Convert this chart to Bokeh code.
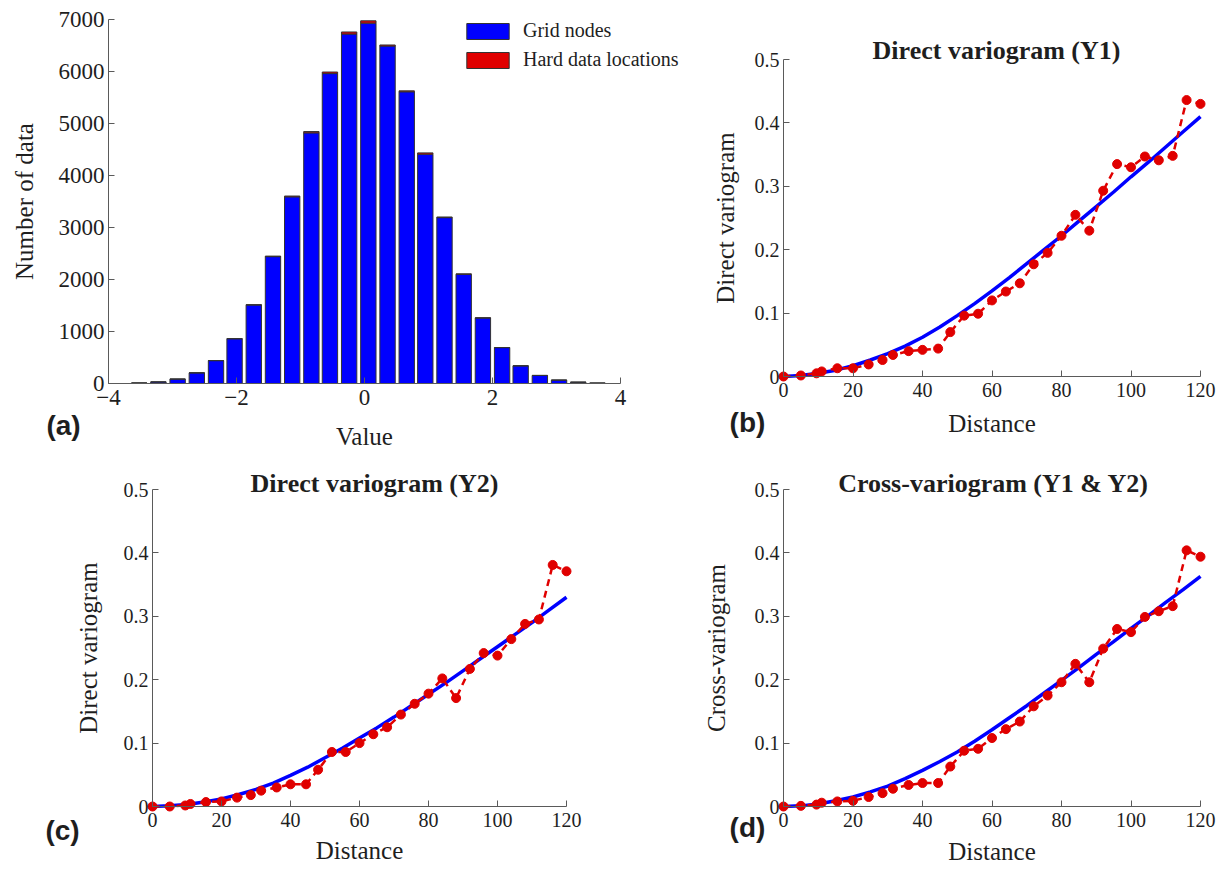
from bokeh.plotting import figure
from bokeh.models import FixedTicker, CustomJSTickFormatter, Label, Range1d
from bokeh.layouts import column, row
from bokeh.embed import file_html
from bokeh.resources import INLINE

# ---------------- data ----------------
bin_centers = [-3.52, -3.22, -2.92, -2.62, -2.32, -2.03, -1.73, -1.43, -1.13, -0.83,
               -0.54, -0.24, 0.06, 0.36, 0.66, 0.95, 1.25, 1.55, 1.85, 2.15,
               2.44, 2.74, 3.04, 3.34, 3.64]
grid_counts = [10, 30, 85, 205, 440, 860, 1510, 2440, 3590, 4820,
               5960, 6720, 6930, 6490, 5610, 4410, 3190, 2100, 1260, 690,
               340, 155, 65, 25, 8]
hard_counts = [0, 0, 0, 0, 1, 3, 6, 10, 15, 25,
               30, 40, 45, 20, 18, 25, 12, 8, 4, 2,
               1, 0, 0, 0, 0]

lags = [0, 5, 9.5, 11, 15.5, 20, 24.5, 28.5, 31.5, 36,
        40, 44.5, 48, 52, 56, 60, 64, 68, 72, 76,
        80, 84, 88, 92, 96, 100, 104, 108, 112, 116, 120]
exp_y1 = [0, 0.0016, 0.005, 0.008, 0.013, 0.013, 0.019, 0.026, 0.034, 0.040,
          0.042, 0.044, 0.070, 0.096, 0.099, 0.120, 0.134, 0.147, 0.177, 0.195,
          0.222, 0.255, 0.230, 0.293, 0.335, 0.330, 0.347, 0.341, 0.348, 0.436, 0.430]
exp_y2 = [0, 0.0, 0.0016, 0.004, 0.007, 0.008, 0.014, 0.018, 0.025, 0.030,
          0.035, 0.035, 0.058, 0.086, 0.086, 0.100, 0.114, 0.125, 0.145, 0.162,
          0.178, 0.202, 0.171, 0.217, 0.242, 0.238, 0.264, 0.288, 0.295, 0.381, 0.371]
exp_cross = [0, 0.001, 0.003, 0.006, 0.008, 0.009, 0.015, 0.021, 0.028, 0.034,
             0.037, 0.037, 0.063, 0.088, 0.091, 0.108, 0.122, 0.134, 0.158, 0.175,
             0.196, 0.225, 0.196, 0.249, 0.280, 0.275, 0.299, 0.308, 0.316, 0.404, 0.394]

model_h = [0, 5, 10, 15, 20, 25, 30, 35, 40, 45, 50, 55, 60,
           65, 70, 75, 80, 85, 90, 95, 100, 105, 110, 115, 120]
model_y1 = [0, 0.0015, 0.005, 0.010, 0.017, 0.026, 0.036, 0.048, 0.062, 0.078, 0.096, 0.115, 0.135,
            0.156, 0.178, 0.200, 0.222, 0.245, 0.268, 0.291, 0.315, 0.338, 0.362, 0.386, 0.410]
model_y2 = [0, 0.001, 0.003, 0.007, 0.012, 0.019, 0.027, 0.037, 0.049, 0.062, 0.077, 0.092, 0.108,
            0.124, 0.141, 0.159, 0.177, 0.195, 0.214, 0.233, 0.252, 0.271, 0.290, 0.310, 0.330]
model_cross = [0, 0.001, 0.004, 0.009, 0.015, 0.023, 0.032, 0.044, 0.057, 0.071, 0.086, 0.103, 0.121,
               0.140, 0.159, 0.179, 0.199, 0.219, 0.240, 0.260, 0.281, 0.301, 0.322, 0.342, 0.363]

hist_xticks = [-4, -2, 0, 2, 4]
hist_yticks = [0, 1000, 2000, 3000, 4000, 5000, 6000, 7000]
var_xticks = [0, 20, 40, 60, 80, 100, 120]
var_yticks = [0, 0.1, 0.2, 0.3, 0.4, 0.5]

SERIF = "Liberation Serif"
SANS = "Liberation Sans"
BLUE = "#0000ff"
RED = "#e00000"
AXIS_COL = "#5a5a5a"
TEXT_COL = "#1e1e1e"


class Frame:
    """Maps pixel positions inside a figure to data positions of its (full-size) frame."""
    def __init__(self, W, H, L, R, T, B, xr, yr):
        self.W, self.H, self.L, self.R, self.T, self.B = W, H, L, R, T, B
        self.xmin, self.xmax = xr
        self.ymin, self.ymax = yr
        self.sx = (self.xmax - self.xmin) / (R - L)
        self.sy = (self.ymax - self.ymin) / (B - T)

    def x(self, px):
        return self.xmin + (px - self.L) * self.sx

    def y(self, py):
        return self.ymin + (self.B - py) * self.sy


def make_fig(fr, tick_size, ylab_so, xlab_so):
    p = figure(width=fr.W, height=fr.H,
               x_range=Range1d(fr.x(0), fr.x(fr.W)), y_range=Range1d(fr.y(fr.H), fr.y(0)),
               min_border=0, title=None, output_backend="svg", toolbar_location=None)
    for ax in (p.xaxis[0], p.yaxis[0]):
        ax.major_tick_in = 6
        ax.major_tick_out = 0
        ax.minor_tick_line_color = None
        ax.axis_line_color = AXIS_COL
        ax.major_tick_line_color = AXIS_COL
        ax.major_label_text_font = SERIF
        ax.major_label_text_font_size = tick_size
        ax.major_label_text_color = TEXT_COL
        ax.axis_label_text_font = SERIF
        ax.axis_label_text_font_size = "25px"
        ax.axis_label_text_font_style = "normal"
        ax.axis_label_text_color = TEXT_COL
    p.xaxis[0].fixed_location = fr.ymin
    p.yaxis[0].fixed_location = fr.xmin
    p.xaxis[0].bounds = (fr.xmin, fr.xmax)
    p.yaxis[0].bounds = (fr.ymin, fr.ymax)
    p.xaxis[0].major_label_standoff = 6
    p.yaxis[0].major_label_standoff = 4
    p.yaxis[0].axis_label_standoff = ylab_so
    p.xaxis[0].axis_label_standoff = xlab_so
    p.xgrid.grid_line_color = None
    p.ygrid.grid_line_color = None
    p.outline_line_color = None
    p.background_fill_color = "white"
    p.border_fill_color = "white"
    return p


def add_text(p, x, y, text, font, size, bold=True):
    p.add_layout(Label(x=x, y=y, text=text, text_font=font,
                       text_font_style="bold" if bold else "normal",
                       text_font_size=size, text_align="center",
                       text_baseline="middle", text_color=TEXT_COL))


# ---------------- (a) histogram ----------------
fra = Frame(708, 452, 108, 620, 19, 383, (-4, 4), (0, 7000))
fa = make_fig(fra, "23px", 18, 15)
fa.xaxis.axis_label = "Value"
fa.yaxis.axis_label = "Number of data"
fa.xaxis.ticker = FixedTicker(ticks=hist_xticks)
fa.yaxis.ticker = FixedTicker(ticks=hist_yticks)
bar_w = 0.24
fa.vbar(x=bin_centers, top=grid_counts, bottom=0, width=bar_w, fill_color=BLUE,
        line_color="#333333", line_width=1, legend_label="Grid nodes")
hard_top = [g + h for g, h in zip(grid_counts, hard_counts)]
fa.vbar(x=bin_centers, top=hard_top, bottom=grid_counts, width=bar_w, fill_color=RED,
        line_color="#333333", line_width=1, legend_label="Hard data locations")
lg = fa.legend[0]
lg.location = (461, 452 - 25 - 46)
lg.glyph_width = 53
lg.glyph_height = 20
lg.spacing = 6
lg.padding = 0
lg.margin = 0
lg.label_standoff = 9
lg.label_height = 20
lg.label_text_font = SERIF
lg.label_text_font_size = "20px"
lg.label_text_color = TEXT_COL
lg.border_line_color = None
lg.background_fill_alpha = 0
add_text(fa, fra.x(63), fra.y(425), "(a)", SANS, "28px")


# ---------------- variogram panels ----------------
def var_fig(fr, title, title_px, ylabel, exp_vals, model_vals, lab, lab_px, ylab_so, xlab_so):
    p = make_fig(fr, "20px", ylab_so, xlab_so)
    p.xaxis.axis_label = "Distance"
    p.yaxis.axis_label = ylabel
    p.xaxis.ticker = FixedTicker(ticks=var_xticks)
    p.yaxis.ticker = FixedTicker(ticks=var_yticks)
    p.yaxis.formatter = CustomJSTickFormatter(code="return tick == 0 ? '0' : tick.toFixed(1);")
    p.line(model_h, model_vals, line_color=BLUE, line_width=3.5)
    p.line(lags, exp_vals, line_color=RED, line_width=2.5, line_dash="7 5")
    p.scatter(lags, exp_vals, size=9, fill_color=RED, line_color=RED)
    add_text(p, fr.x(title_px[0]), fr.y(title_px[1]), title, SERIF, "26px")
    add_text(p, fr.x(lab_px[0]), fr.y(lab_px[1]), lab, SANS, "28px")
    return p


frb = Frame(516, 452, 75, 492, 59, 376, (0, 120), (0, 0.5))
fb = var_fig(frb, "Direct variogram (Y1)", (288, 50), "Direct variogram",
             exp_y1, model_y1, "(b)", (39, 422), 13, 10)

frc = Frame(640, 417, 152, 566, 37, 354, (0, 120), (0, 0.5))
fc = var_fig(frc, "Direct variogram (Y2)", (374, 31), "Direct variogram",
             exp_y2, model_y2, "(c)", (62, 378), 19, 7)

frd = Frame(584, 417, 143, 560, 37, 354, (0, 120), (0, 0.5))
fd = var_fig(frd, "Cross-variogram (Y1 & Y2)", (353, 31), "Cross-variogram",
             exp_cross, model_cross, "(d)", (107, 375), 22, 8)

layout = column(row(fa, fb), row(fc, fd))
open("out.html", "w").write(file_html(layout, INLINE))
